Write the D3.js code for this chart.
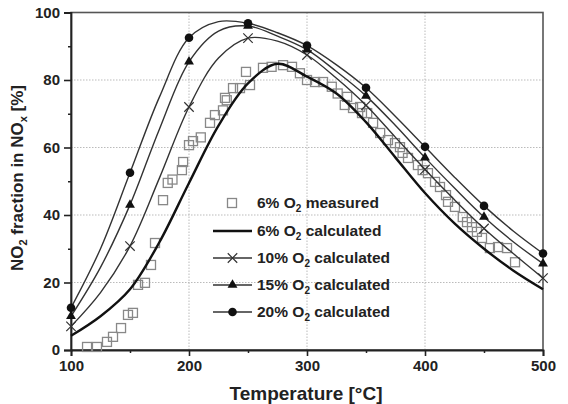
<!DOCTYPE html>
<html><head><meta charset="utf-8">
<script src="https://cdn.jsdelivr.net/npm/d3@7"></script>
<style>body{margin:0;background:#fff}svg{display:block;font-family:"Liberation Sans",Arial,sans-serif}</style>
</head><body><svg id="c" width="568" height="404"></svg>
<script>
const xTicks=[100,200,300,400,500];
const yTicks=[0,20,40,60,80,100];
const calcT=[100,125,150,175,200,225,250,275,300,325,350,375,400,425,450,475,500];
const calc6=[4.2,10,18,32,49.5,66.5,79,84.8,81,76,67.5,57,46.5,37.5,30,23.5,18];
const calc10=[7,17,30.8,51,72,86.5,92.4,91.5,87.4,80.5,72.5,63,53.5,44.5,36,28.5,21.3];
const calc15=[10,24.5,43,65.5,85.4,94.5,96,93,89,82.5,75.3,66.5,57,48,39.4,32,25.6];
const calc20=[12.5,30,52.5,75,92.5,97.3,96.8,94,90.2,84.5,77.7,69.2,60.2,51.2,42.7,35.2,28.6];
const markerT=[100,150,200,250,300,350,400,450,500];
const measT=[113.6,122,130.5,135.6,142.4,148.3,152.5,156.8,162.7,167.8,171.2,178,182,186,194,195,200,203.4,210,217.8,222,228.8,230.5,232,237.3,243.2,248.3,251.7,262.7,270,279.7,287.3,294,300,306.8,313.6,321,326,332,334,339,345,346.6,351,356,362,368.6,374.6,378.8,381,385.6,394,398,402.5,408.5,412.7,417.8,419.5,425.4,432,435.6,439.8,444,448.3,455,461.9,469.5,476.3];
const measV=[0.9,0.9,2.4,3.9,6.5,10.4,11,19.3,19.9,25.2,31.7,44.4,49.5,50.5,53.3,55.7,60.7,61.9,63,67.3,69.6,71,74.7,74,77.6,77.6,82.4,78.5,83.6,83.9,84.4,83.9,82,80,79.4,79.4,78,76,72.6,75,71.7,72,70.2,70.2,67.3,64.3,62.2,61.3,60.1,58.4,56.9,54.8,53.3,52.4,49.8,48.3,45.9,43.9,42.4,39.4,37.9,36.4,35,33.2,30.2,30.5,30.2,26];
const legendLabels=[["6% O","2"," measured"],["6% O","2"," calculated"],["10% O","2"," calculated"],["15% O","2"," calculated"],["20% O","2"," calculated"]];

const svg=d3.select("#c");
const x=d3.scaleLinear().domain([100,500]).range([71,543]);
const y=d3.scaleLinear().domain([0,100]).range([350,12.5]);
const ink="#222";

// grid
const g=svg.append("g");
g.selectAll(".gx").data([200,300,400]).join("line")
 .attr("x1",d=>x(d)).attr("x2",d=>x(d)).attr("y1",y(0)).attr("y2",y(100))
 .attr("stroke","#bbb").attr("stroke-width",1).attr("stroke-dasharray","1.5,1.5");
g.selectAll(".gy").data([20,40,60,80]).join("line")
 .attr("y1",d=>y(d)).attr("y2",d=>y(d)).attr("x1",x(100)).attr("x2",x(500))
 .attr("stroke","#bbb").attr("stroke-width",1).attr("stroke-dasharray","1.5,1.5");

// frame
svg.append("rect").attr("x",x(100)).attr("y",y(100)).attr("width",x(500)-x(100)).attr("height",y(0)-y(100))
 .attr("fill","none").attr("stroke","#555").attr("stroke-width",1.6);

// axes
const xAxis=d3.axisBottom(x).tickValues(xTicks).tickSize(6).tickPadding(4).tickFormat(d3.format("d"));
const ax=svg.append("g").attr("transform",`translate(0,${y(0)})`).call(xAxis);
const yAxis=d3.axisLeft(y).tickValues(yTicks).tickSize(7).tickPadding(4).tickFormat(d3.format("d"));
const ay=svg.append("g").attr("transform",`translate(${x(100)},0)`).call(yAxis);
[ax,ay].forEach(a=>{a.select(".domain").attr("stroke",ink).attr("stroke-width",1.8);
 a.selectAll(".tick line").attr("stroke",ink).attr("stroke-width",1.6);
 a.selectAll(".tick text").attr("fill",ink).attr("font-size",15).attr("font-weight","bold").attr("font-family","Liberation Sans, Arial, sans-serif");});
// minor ticks
const xm=d3.axisBottom(x).tickValues([150,250,350,450]).tickSize(3).tickFormat("");
svg.append("g").attr("transform",`translate(0,${y(0)})`).call(xm).call(a=>{a.select(".domain").remove();a.selectAll("line").attr("stroke",ink).attr("stroke-width",1.5);});
const ym=d3.axisLeft(y).tickValues([10,30,50,70,90]).tickSize(3).tickFormat("");
svg.append("g").attr("transform",`translate(${x(100)},0)`).call(ym).call(a=>{a.select(".domain").remove();a.selectAll("line").attr("stroke",ink).attr("stroke-width",1.5);});

// measured squares
const sq=9;
svg.append("g").selectAll("rect").data(measT.map((t,i)=>[t,measV[i]])).join("rect")
 .attr("x",d=>x(d[0])-sq/2).attr("y",d=>y(d[1])-sq/2).attr("width",sq).attr("height",sq)
 .attr("fill","none").attr("stroke","#888").attr("stroke-width",1.3);

// curves
const line=d3.line().x(d=>x(d[0])).y(d=>y(d[1])).curve(d3.curveCatmullRom.alpha(0.5));
const series=[{v:calc6,w:2.4,m:null},{v:calc10,w:1.4,m:"x"},{v:calc15,w:1.4,m:"tri"},{v:calc20,w:1.4,m:"dot"}];
const lg=svg.append("g");
series.forEach(s=>{
 lg.append("path").datum(calcT.map((t,i)=>[t,s.v[i]])).attr("d",line).attr("fill","none").attr("stroke",s.w>2?"#111":"#333").attr("stroke-width",s.w);
});
function drawMarker(sel,type,cx,cy){
 if(type==="x"){sel.append("path").attr("d",d3.symbol(d3.symbolX,60)()).attr("transform",`translate(${cx},${cy})`).attr("stroke","#333").attr("stroke-width",1.2).attr("fill","none");}
 else if(type==="tri"){sel.append("path").attr("d",d3.symbol(d3.symbolTriangle,42)()).attr("transform",`translate(${cx},${cy})`).attr("fill","#111");}
 else if(type==="dot"){sel.append("circle").attr("cx",cx).attr("cy",cy).attr("r",4.3).attr("fill","#111");}
}
series.forEach(s=>{
 if(!s.m)return;
 markerT.forEach(t=>{const i=calcT.indexOf(t);drawMarker(svg,s.m,x(t),y(s.v[i]));});
});

// legend
const legY=[203,231,258,285,312];
const leg=svg.append("g");
legendLabels.forEach((lab,i)=>{
 const yy=legY[i];
 if(i===0){leg.append("rect").attr("x",232-4.5).attr("y",yy-4.5).attr("width",9).attr("height",9).attr("fill","none").attr("stroke","#888").attr("stroke-width",1.3);}
 else{
  leg.append("line").attr("x1",213).attr("x2",252).attr("y1",yy).attr("y2",yy).attr("stroke",i===1?"#111":"#333").attr("stroke-width",i===1?2.4:1.4);
  drawMarker(leg,series[i-1].m,232.5,yy);
 }
 const t=leg.append("text").attr("x",257).attr("y",yy+5).attr("font-size",15.5).attr("font-weight","bold").attr("fill",ink);
 t.append("tspan").text(lab[0]);
 t.append("tspan").attr("dy",4).attr("font-size",10).text(lab[1]);
 t.append("tspan").attr("dy",-4).text(lab[2]);
});

// axis titles
svg.append("text").attr("x",306).attr("y",400).attr("text-anchor","middle").attr("font-size",19).attr("font-weight","bold").attr("fill",ink)
 .text("Temperature [°C]");
const yt=svg.append("text").attr("transform","translate(23,178) rotate(-90)").attr("text-anchor","middle").attr("font-size",17).attr("font-weight","bold").attr("fill",ink);
yt.append("tspan").text("NO");
yt.append("tspan").attr("dy",4).attr("font-size",11).text("2");
yt.append("tspan").attr("dy",-4).text(" fraction in NO");
yt.append("tspan").attr("dy",4).attr("font-size",11).text("x");
yt.append("tspan").attr("dy",-4).text(" [%]");
</script></body></html>
